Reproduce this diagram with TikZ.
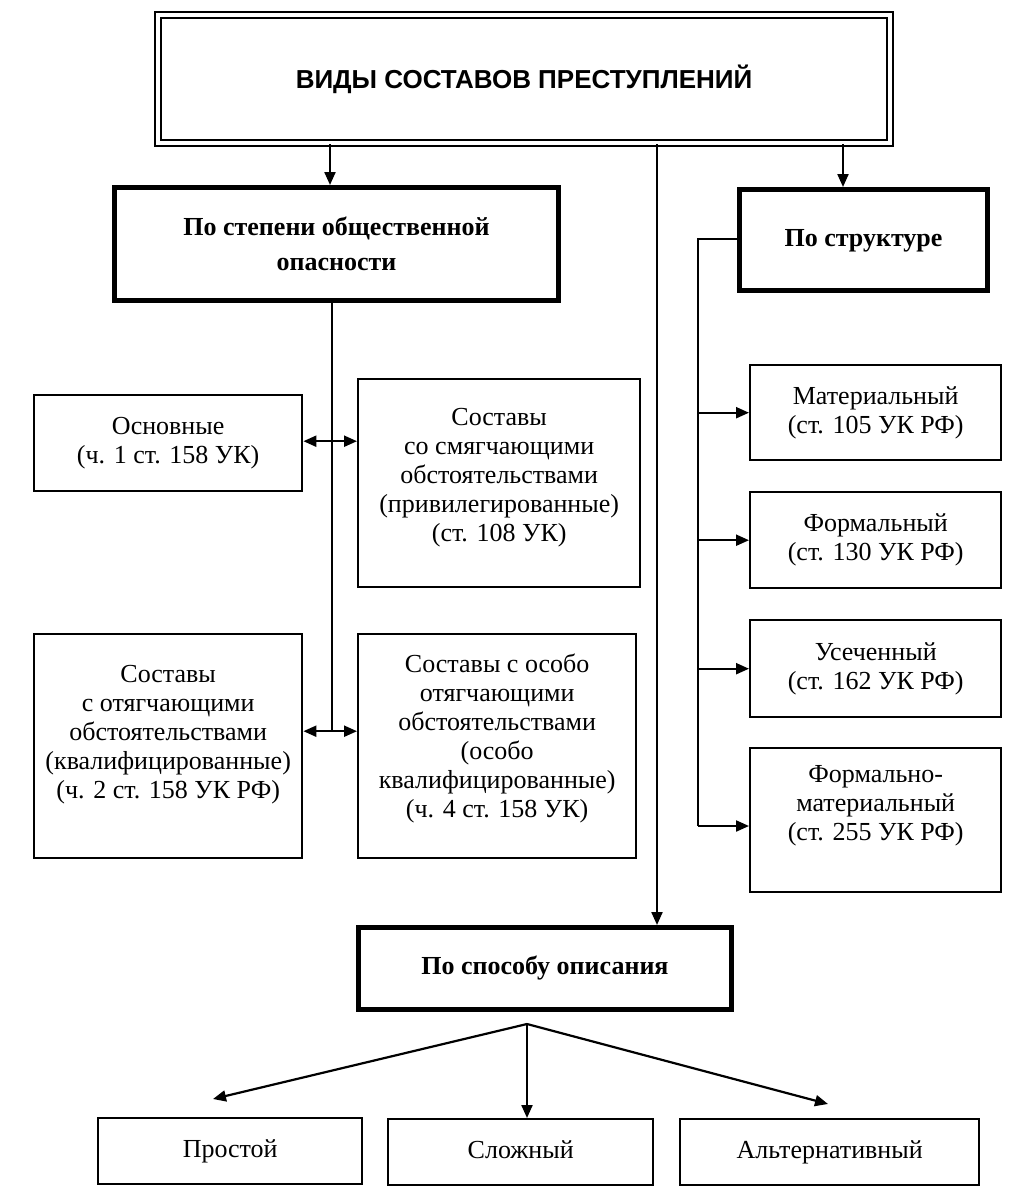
\documentclass[tikz,border=0pt]{standalone}
\usepackage{fontspec}
\setmainfont{Liberation Serif}
\newfontfamily\titlefont{Liberation Sans}
\usetikzlibrary{arrows.meta,positioning,calc}
\tikzset{
  box/.style={draw=black, line width=2.4pt, inner sep=0pt, anchor=north west, align=center, font=\fontsize{26}{29}\selectfont},
  thickbox/.style={draw=black, line width=5pt, inner sep=0pt, anchor=north west, align=center, font=\fontsize{26}{35}\selectfont\bfseries},
  txt/.style={align=center, inner sep=0pt, font=\fontsize{26}{29}\selectfont},
  onerow/.style={text height=18pt, text depth=6pt},
  conn/.style={line width=2.2pt},
  arr/.style={line width=2.2pt, -{Triangle[length=13pt,width=11pt]}},
  dblarr/.style={line width=2.2pt, {Triangle[length=13pt,width=11pt]}-{Triangle[length=13pt,width=11pt]}}
}
\begin{document}
\begin{tikzpicture}[x=1pt,y=-1pt]
\useasboundingbox (0,0) rectangle (1033,1200);
% title
\node[draw=black, line width=2.4pt, double, double distance=4pt, minimum width=732pt, minimum height=128pt, inner sep=0pt,
      font=\titlefont\fontsize{26}{30}\selectfont\bfseries] (title) at (524,79) {ВИДЫ СОСТАВОВ ПРЕСТУПЛЕНИЙ};
% level 1
\node[thickbox, minimum width=444pt, minimum height=113pt] (stepen) at (112,185) {По степени общественной\\опасности};
\node[thickbox, onerow, minimum width=248pt, minimum height=101pt] (struct) at (737,187) {По структуре};
\node[thickbox, onerow, minimum width=373pt, minimum height=82pt] (sposob) at (356,925) {По способу описания};
% left boxes
\node[box, minimum width=268pt, minimum height=96pt] (osn) at (33,394) {Основные\\(ч. 1 ст. 158 УК)};
\node[box, minimum width=282pt, minimum height=208pt] (smyag) at (357,378) {};
\node[txt] at ([yshift=6pt]smyag.center) {Составы\\со смягчающими\\обстоятельствами\\(привилегированные)\\(ст. 108 УК)};
\node[box, minimum width=268pt, minimum height=224pt] (otyag) at (33,633) {};
\node[txt] at ([yshift=12pt]otyag.center) {Составы\\с отягчающими\\обстоятельствами\\(квалифицированные)\\(ч. 2 ст. 158 УК РФ)};
\node[box, minimum width=278pt, minimum height=224pt] (osob) at (357,633) {};
\node[txt] at ([yshift=8pt]osob.center) {Составы с особо\\отягчающими\\обстоятельствами\\(особо\\квалифицированные)\\(ч. 4 ст. 158 УК)};
% right boxes
\node[box, minimum width=251pt, minimum height=95pt] (mat) at (749,364) {Материальный\\(ст. 105 УК РФ)};
\node[box, minimum width=251pt, minimum height=96pt] (form) at (749,491) {Формальный\\(ст. 130 УК РФ)};
\node[box, minimum width=251pt, minimum height=97pt] (usech) at (749,619) {Усеченный\\(ст. 162 УК РФ)};
\node[box, minimum width=251pt, minimum height=144pt] (fm) at (749,747) {};
\node[txt] at ([yshift=14pt]fm.center) {Формально-\\материальный\\(ст. 255 УК РФ)};
% bottom boxes
\node[box, onerow, minimum width=264pt, minimum height=66pt] (prost) at (97,1117) {Простой};
\node[box, onerow, minimum width=265pt, minimum height=66pt] (slozh) at (387,1118) {Сложный};
\node[box, onerow, minimum width=299pt, minimum height=66pt] (alt) at (679,1118) {Альтернативный};
% connectors from title
\coordinate (tA) at (330,0);
\coordinate (tB) at (843,0);
\coordinate (tC) at (657,0);
\draw[arr] (title.south -| tA) -- (tA |- stepen.north);
\draw[arr] (title.south -| tB) -- (tB |- struct.north);
\draw[arr] (title.south -| tC) -- (tC |- sposob.north);
% left trunk
\coordinate (trunkEnd) at (332,730);
\draw[conn] (stepen.south -| trunkEnd) -- (trunkEnd);
\draw[dblarr] ([yshift=2pt]osn.east) -- ([yshift=2pt]osn.east -| smyag.west);
\draw[dblarr] ([yshift=15pt]otyag.east) -- ([yshift=15pt]otyag.east -| osob.west);
% right bus
\coordinate (bus) at (698,826);
\draw[conn] ([yshift=1pt]struct.west) -- ([yshift=1pt]struct.west -| bus) -- (bus);
\draw[arr] (mat.west -| bus) -- (mat.west);
\draw[arr] (form.west -| bus) -- (form.west);
\draw[arr] (usech.west -| bus) -- (usech.west);
\draw[arr] (bus) -- (bus -| fm.west);
% bottom fan
\coordinate (apex) at (527,1024);
\coordinate (leftEnd) at (213,1099);
\coordinate (rightEnd) at (828,1104);
\draw[arr] (apex) -- (leftEnd);
\draw[arr] (apex) -- (apex |- slozh.north);
\draw[arr] (apex) -- (rightEnd);
\end{tikzpicture}
\end{document}
